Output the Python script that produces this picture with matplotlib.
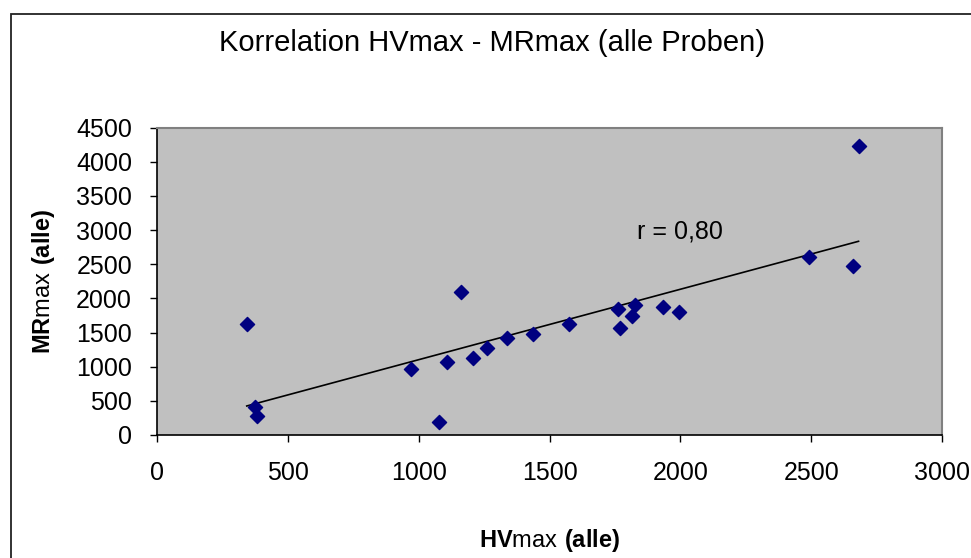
import numpy as np
import matplotlib.pyplot as plt
from matplotlib.patches import Rectangle

plt.rcParams['font.family'] = ['Liberation Sans', 'DejaVu Sans']
plt.rcParams['mathtext.fontset'] = 'custom'
plt.rcParams['mathtext.rm'] = 'Liberation Sans'
plt.rcParams['mathtext.bf'] = 'Liberation Sans:bold'

# Werte
hv_max = [343, 374, 382, 969, 1076, 1107, 1160, 1206, 1261, 1336, 1437,
          1574, 1763, 1771, 1826, 1817, 1932, 1994, 2490, 2658, 2681]
mr_max = [1625, 414, 278, 962, 195, 1073, 2099, 1132, 1279, 1425, 1479,
          1625, 1840, 1567, 1904, 1743, 1870, 1806, 2602, 2479, 4236]

x_ticks = [0, 500, 1000, 1500, 2000, 2500, 3000]
y_ticks = [0, 500, 1000, 1500, 2000, 2500, 3000, 3500, 4000, 4500]

fig = plt.figure(figsize=(9.71, 5.58), dpi=100)
ax = fig.add_axes([157 / 971, 1 - 435 / 558, 785 / 971, 307.3 / 558])

# Rahmen um das Diagramm
fig.patches.append(Rectangle((11 / 971, -0.1), 1.2, 1 - 14 / 558 + 0.1,
                             transform=fig.transFigure, fill=False,
                             edgecolor='#222222', linewidth=1.3))

ax.set_facecolor('#C0C0C0')
ax.scatter(hv_max, mr_max, marker='D', s=7.2 ** 2, color='#000080', zorder=3)

# lineare Trendlinie
x = np.array(hv_max)
y = np.array(mr_max)
k, d = np.polyfit(x, y, 1)
xs = np.array([x.min(), x.max()])
ax.plot(xs, k * xs + d, color='black', linewidth=1.2, zorder=2)
ax.text(1833, 2973, 'r = 0,80', fontsize=18, va='center', ha='left')

ax.set_xlim(0, 3000)
ax.set_ylim(0, 4500)
ax.set_xticks(x_ticks)
ax.set_yticks(y_ticks)
ax.tick_params(axis='both', direction='out', length=5, width=1, labelsize=18)
ax.tick_params(axis='x', pad=14)
ax.tick_params(axis='y', pad=13)

for side in ['left', 'bottom']:
    ax.spines[side].set_color('black')
    ax.spines[side].set_linewidth(1.2)
for side in ['top', 'right']:
    ax.spines[side].set_color('#808080')
    ax.spines[side].set_linewidth(1.5)

ax.set_xlabel(r'$\mathbf{HV}\mathrm{max}\ \mathbf{(alle)}$', fontsize=17, labelpad=30)
ax.set_ylabel(r'$\mathbf{MR}\mathrm{max}\ \mathbf{(alle)}$', fontsize=17, labelpad=14)

fig.text(492 / 971, 1 - 43 / 558, 'Korrelation HVmax - MRmax (alle Proben)',
         fontsize=21, ha='center', va='center')

fig.savefig('out.png', dpi=100)
